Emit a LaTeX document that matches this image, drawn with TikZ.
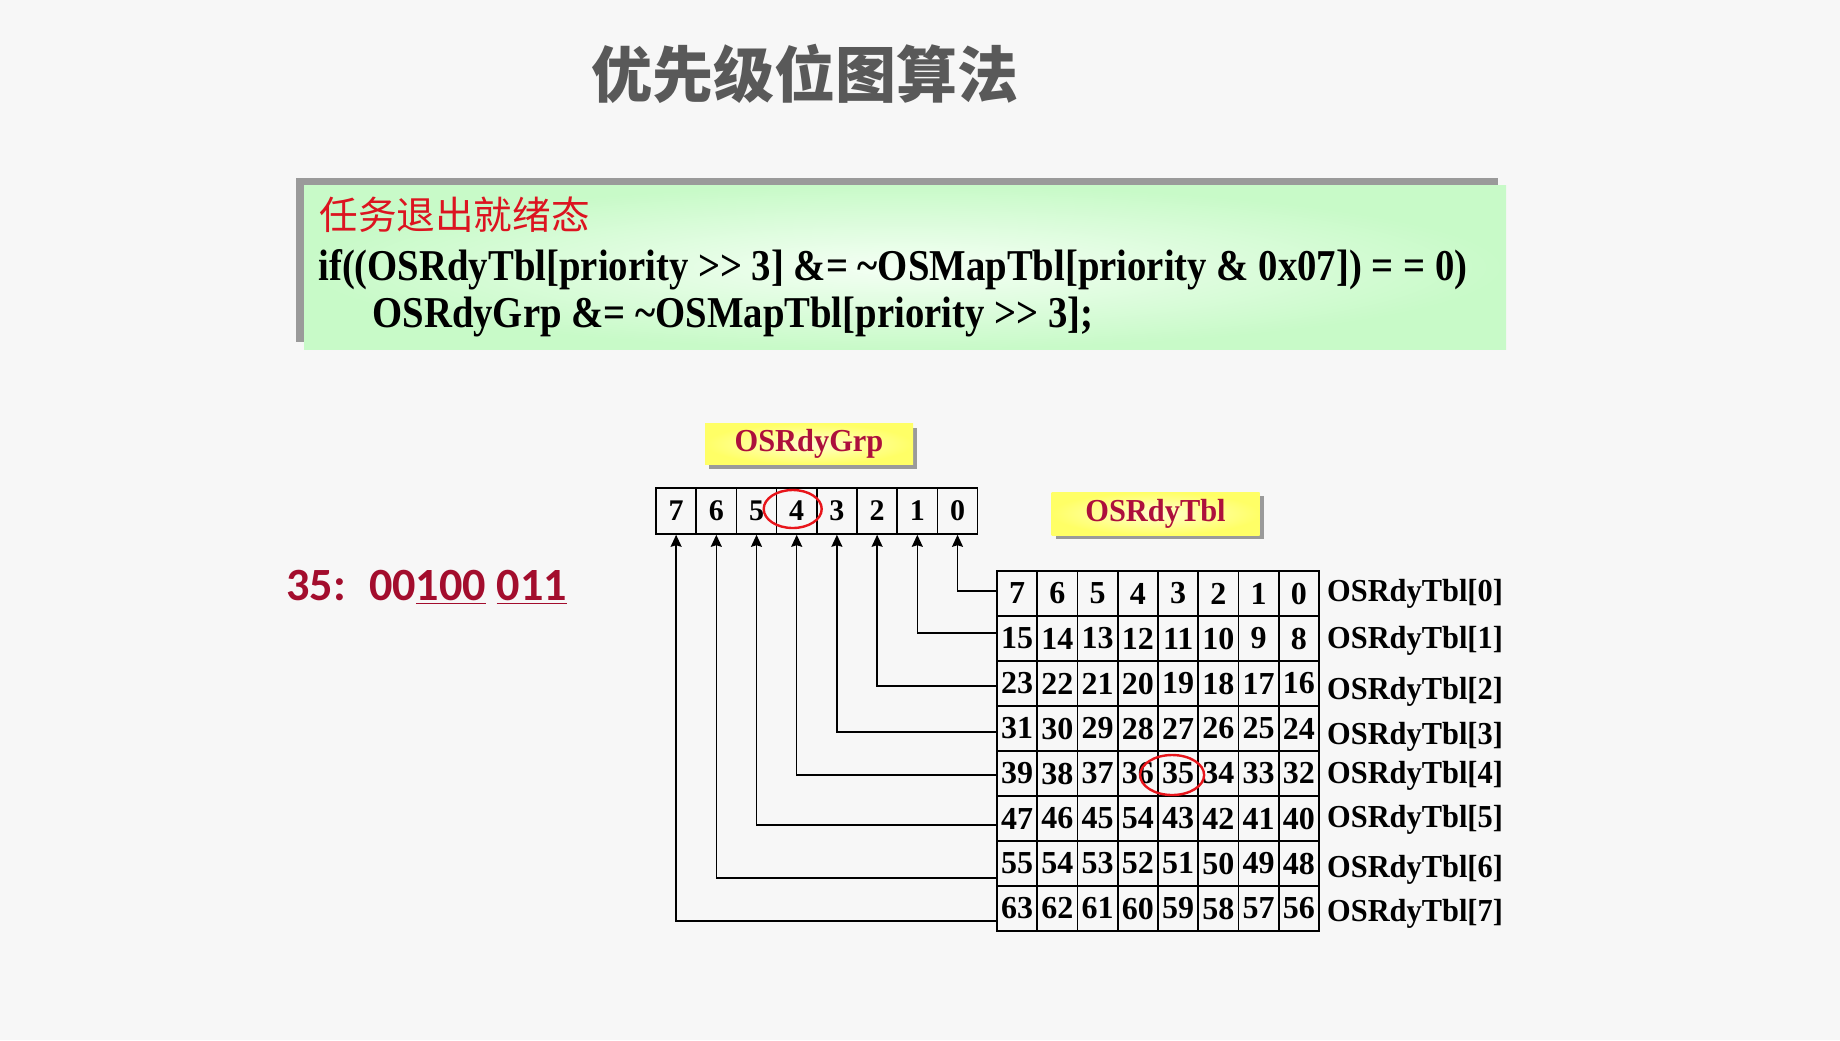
\documentclass[tikz,border=0pt]{standalone}
\usepackage{fontspec}
\usepackage{xcolor}
\usepackage{tikz}
\usetikzlibrary{arrows.meta, positioning, shadows}
\setmainfont{Liberation Serif}
\newfontfamily\cjkfont{Noto Sans CJK SC}
\newfontfamily\tblfont{Liberation Serif}[FakeStretch=0.95]
\newfontfamily\codefont{Liberation Serif}[FakeStretch=0.88]
\newfontfamily\calfont{Carlito}
\definecolor{slideBg}{HTML}{F7F7F7}
\definecolor{titleGray}{HTML}{595959}
\definecolor{stateRed}{HTML}{DC1420}
\definecolor{nameRed}{HTML}{AD0F3C}
\definecolor{bitRed}{HTML}{A30D2D}
\definecolor{ringRed}{HTML}{E8151B}
\definecolor{codeGreen}{HTML}{C8FAC8}
\definecolor{codeGlow}{HTML}{F4FFF4}
\definecolor{tagYellow}{HTML}{FFFF66}
\definecolor{tagGlow}{HTML}{FFFFD0}
\definecolor{shadowGray}{HTML}{9A9A9A}

\begin{document}
\begin{tikzpicture}[
    x=0.5pt, y=-0.5pt,
    cell/.style={
      rectangle, draw, line width=0.8pt, inner sep=0pt,
      minimum width=20.125pt, minimum height=22.5pt,
      font=\bfseries\fontsize{16}{16}\selectfont
    },
    bit/.style={cell, minimum width=20.1pt, minimum height=23pt,
      font=\bfseries\fontsize{15}{15}\selectfont},
    tag/.style={
      rectangle, inner sep=0pt, minimum width=104pt, minimum height=20.5pt,
      inner color=tagGlow, outer color=tagYellow,
      drop shadow={shadow xshift=2.2pt, shadow yshift=-2.2pt, fill=shadowGray, opacity=1},
      font=\tblfont\bfseries\fontsize{16}{16}\selectfont, text=nameRed
    },
    rowname/.style={font=\tblfont\bfseries\fontsize{16}{16}\selectfont, inner sep=0pt},
    codeline/.style={anchor=base west, inner sep=0pt},
    wire/.style={-{Stealth[length=6pt, width=5.5pt, inset=0.8pt]}, line width=0.75pt},
    ring/.style={draw=ringRed, line width=1.2pt},
  ]

  %% ── Slide ──
  \fill[slideBg] (0,0) rectangle (1840,1040);
  \useasboundingbox (0,0) rectangle (1840,1040);

  \node[font=\cjkfont\bfseries\fontsize{30.5}{30.5}\selectfont, text=titleGray] (title) at (805,74) {优先级位图算法};

  %% ── Code box ──
  \node[rectangle, minimum width=601pt, minimum height=82pt,
        inner color=codeGlow, outer color=codeGreen,
        drop shadow={shadow xshift=-4pt, shadow yshift=3.5pt, fill=shadowGray, opacity=1}] (code) at (905,267) {};
  \node[codeline, font=\cjkfont\fontsize{19.3}{19.3}\selectfont, text=stateRed] (state) at (319,229) {任务退出就绪态};
  \node[codeline, font=\codefont\bfseries\fontsize{22}{22}\selectfont] (cond) at (318,280)
    {if((OSRdyTbl[priority >{}> 3] \&= \textasciitilde OSMapTbl[priority \& 0x07]) = = 0)};
  \node[codeline, font=\codefont\bfseries\fontsize{22}{22}\selectfont] (clear) at (372,327)
    {OSRdyGrp \&= \textasciitilde OSMapTbl[priority >{}> 3];};

  %% ── Example value ──
  \node[codeline, font=\calfont\bfseries\fontsize{23.1}{23.1}\selectfont, text=bitRed] (val) at (286,600)
    {35:\hspace{0.5em}00\underline{100} \underline{011}};

  %% ── Tags ──
  \node[tag] (grpTag) at (809,444) {OSRdyGrp};
  \node[tag, minimum height=21.5pt] (tblTag) at (1155.5,513.5) {OSRdyTbl};

  %% ── OSRdyGrp bits ──
  \foreach \b in {0,...,7}
    \node[bit] (G\b) at ({656+40.2*(7.5-\b)},511) {\b};

  %% ── OSRdyTbl cells ──
  \foreach \row [count=\r from 0] in {{7,6,5,4,3,2,1,0},{15,14,13,12,11,10,9,8},
      {23,22,21,20,19,18,17,16},{31,30,29,28,27,26,25,24},{39,38,37,36,35,34,33,32},
      {47,46,45,54,43,42,41,40},{55,54,53,52,51,50,49,48},{63,62,61,60,59,58,57,56}}
    \foreach \v [count=\c from 0] in \row
      \node[cell] (T-\r-\c) at ({997+40.25*(\c+0.5)},{571+45*(\r+0.5)}) {\v};

  %% ── Row names and links to the group bits ──
  \foreach \r/\wy/\ly in {0/1.25/0, 1/2.75/-1.25, 2/-1.25/-4.25, 3/-1.75/-4.25,
      4/-0.75/-1.25, 5/-3.25/-0.75, 6/-7.25/-3.25, 7/-6.25/-2.75} {
    \node[rowname, right=3.5pt of T-\r-7, yshift=\ly pt] (L\r) {OSRdyTbl[\r]};
    \draw[wire] ([yshift=\wy pt]T-\r-0.west) -| (G\r.south);
  }

  %% ── Priority 35 ──
  \draw[ring] ([xshift=-2pt, yshift=1pt]G4.center) ellipse [x radius=14.5pt, y radius=9.5pt];
  \draw[ring] ([xshift=-3pt, yshift=-0.75pt]T-4-4.center) ellipse [x radius=16pt, y radius=10pt];

\end{tikzpicture}
\end{document}
